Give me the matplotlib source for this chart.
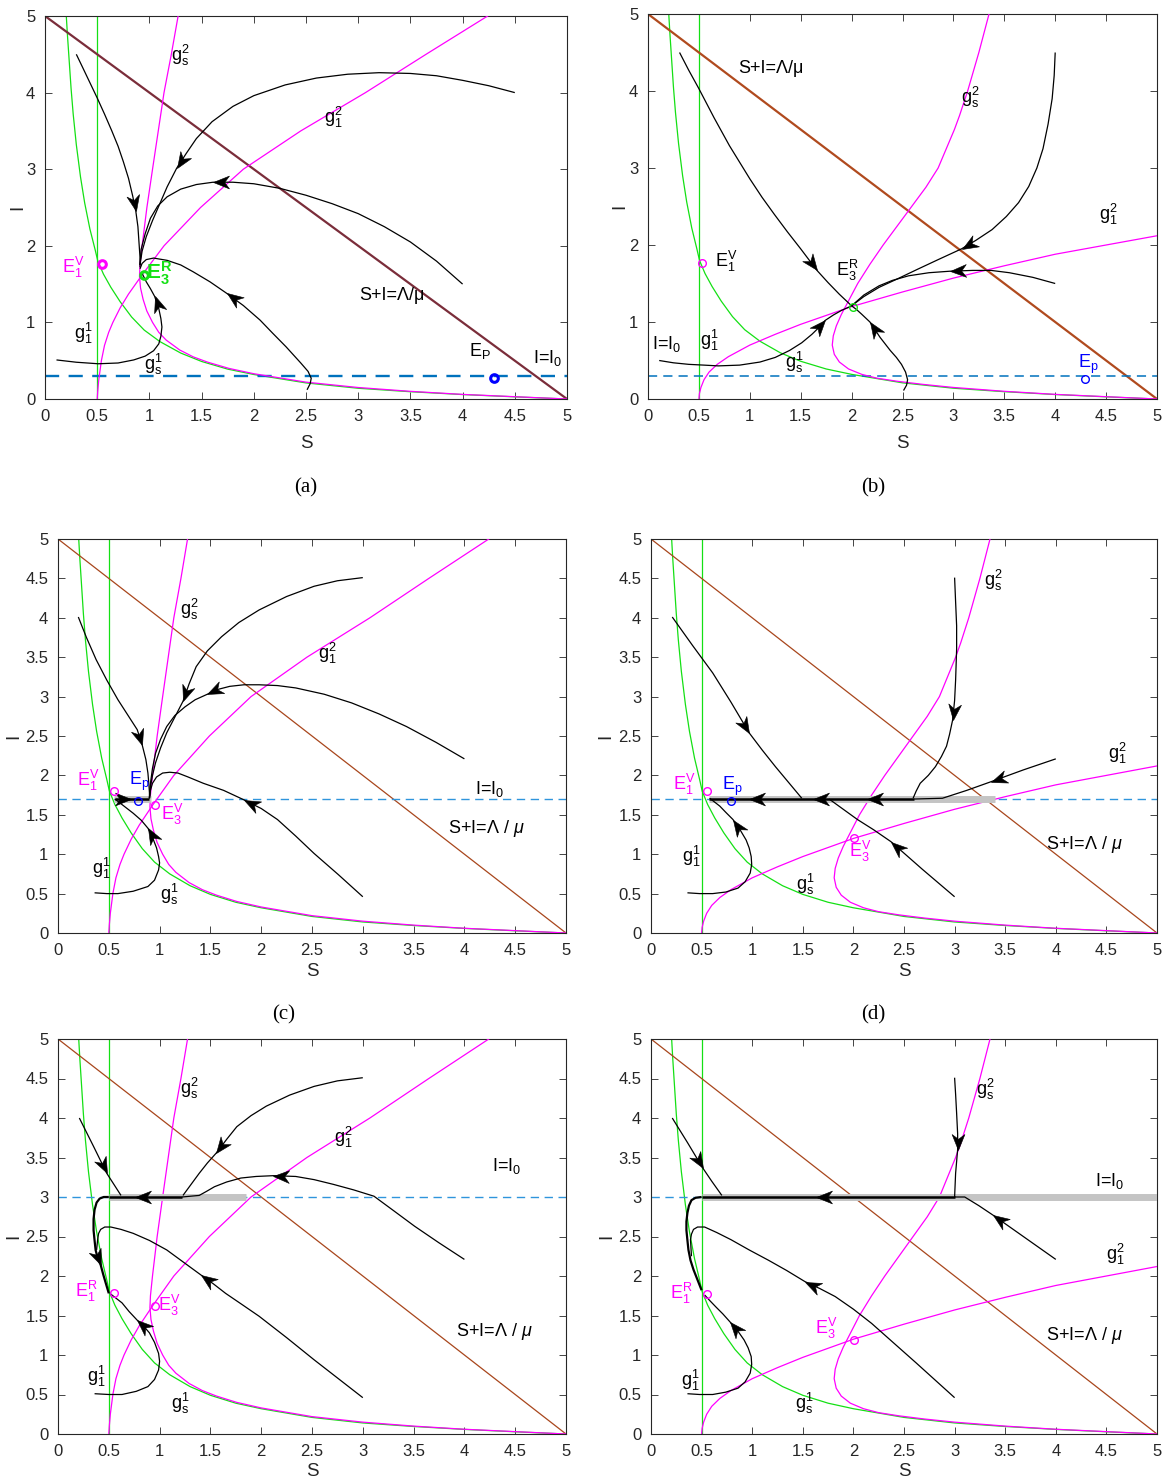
import numpy as np
import matplotlib
matplotlib.use("Agg")
import matplotlib.pyplot as plt
from matplotlib.path import Path
from matplotlib.markers import MarkerStyle
from matplotlib.transforms import Affine2D

plt.rcParams['font.family'] = ['Liberation Sans', 'DejaVu Sans']
plt.rcParams['mathtext.fontset'] = 'custom'
plt.rcParams['mathtext.rm'] = 'Liberation Sans'
plt.rcParams['mathtext.it'] = 'Liberation Sans:italic'
plt.rcParams['mathtext.bf'] = 'Liberation Sans:bold'

# ---- axis ticks ----
S_TICKS = [0, 0.5, 1, 1.5, 2, 2.5, 3, 3.5, 4, 4.5, 5]
S_TICK_LABELS = ['0', '0.5', '1', '1.5', '2', '2.5', '3', '3.5', '4', '4.5', '5']
I_TICKS_COARSE = [0, 1, 2, 3, 4, 5]
I_TICK_LABELS_COARSE = ['0', '1', '2', '3', '4', '5']
I_TICKS_FINE = S_TICKS
I_TICK_LABELS_FINE = S_TICK_LABELS

# ---- nullclines ----
G11_S = [0.204, 0.215, 0.23, 0.25, 0.27, 0.30, 0.34, 0.38, 0.43, 0.48, 0.506, 0.56, 0.63,
         0.72, 0.83, 0.95, 1.10, 1.30, 1.50, 1.75, 2.00, 2.50, 3.00, 3.50, 4.00, 4.50, 5.00]
G11_I = [5.00, 4.75, 4.45, 4.05, 3.72, 3.32, 2.90, 2.56, 2.22, 1.95, 1.80, 1.63, 1.46,
         1.27, 1.07, 0.90, 0.75, 0.60, 0.49, 0.39, 0.32, 0.21, 0.14, 0.095, 0.058, 0.028, 0.0]

# left column (a, c, e)
GS_L_S = [1.275, 1.21, 1.14, 1.085, 1.03, 0.976, 0.93, 0.91, 0.905, 0.915, 0.94, 0.975, 1.03,
          1.09, 1.16, 1.29, 1.42, 1.56, 1.76, 2.0, 2.5, 3.0, 3.5, 4.0, 4.5, 5.0]
GS_L_I = [5.0, 4.5, 4.0, 3.5, 3.0, 2.5, 2.0, 1.75, 1.6, 1.45, 1.3, 1.15, 1.0,
          0.87, 0.77, 0.64, 0.55, 0.48, 0.40, 0.33, 0.22, 0.15, 0.10, 0.06, 0.03, 0.0]
G12_L_S = [0.5, 0.505, 0.515, 0.54, 0.57, 0.61, 0.65, 0.72, 0.80, 0.93, 1.14, 1.49, 1.9,
           2.45, 3.07, 3.65, 4.24]
G12_L_I = [0, 0.1, 0.25, 0.5, 0.7, 0.87, 1.0, 1.19, 1.37, 1.62, 2.0, 2.5, 3.0,
           3.5, 4.0, 4.5, 5.0]

# right column (b, d, f)
GS_R_S = [3.35, 3.25, 3.14, 3.06, 3.01, 2.93, 2.85, 2.73, 2.59, 2.45, 2.31, 2.18, 2.06, 1.96,
          1.90, 1.85, 1.82, 1.81, 1.83, 1.88, 1.97, 2.10, 2.25, 2.45, 2.70, 3.0, 3.5, 4.0, 4.5, 5.0]
GS_R_I = [5.0, 4.5, 4.0, 3.68, 3.5, 3.25, 3.0, 2.75, 2.5, 2.25, 2.0, 1.75, 1.5, 1.25,
          1.1, 0.95, 0.82, 0.70, 0.58, 0.48, 0.39, 0.32, 0.27, 0.23, 0.19, 0.15, 0.10, 0.06, 0.03, 0.0]
G12_R_S = [0.5, 0.505, 0.52, 0.55, 0.6, 0.68, 0.79, 1.0, 1.25, 1.5, 2.0, 2.5, 3.0, 3.5, 4.0, 4.5, 5.0]
G12_R_I = [0, 0.07, 0.15, 0.25, 0.35, 0.45, 0.55, 0.70, 0.84, 0.97, 1.2, 1.39, 1.57, 1.73, 1.88, 2.0, 2.12]

TOTAL_POP = 5.0   # S+I = Lambda/mu
VACC_S = 0.5      # vertical green line
I0_VALUES = [0.3, 0.3, 1.7, 1.7, 3.0, 3.0]

# ---- trajectories (S, I) and arrow indices ----
A_T1 = [(0.30, 4.50), (0.36, 4.33), (0.43, 4.13), (0.50, 3.93), (0.57, 3.72), (0.64, 3.50),
        (0.70, 3.30), (0.75, 3.10), (0.80, 2.88), (0.84, 2.65), (0.87, 2.45), (0.89, 2.25),
        (0.90, 2.05), (0.91, 1.85), (0.91, 1.72)]
A_T2 = [(4.5, 4.0), (4.25, 4.09), (4.0, 4.16), (3.75, 4.22), (3.5, 4.25), (3.2, 4.26), (2.9, 4.24),
        (2.6, 4.19), (2.3, 4.10), (2.0, 3.96), (1.8, 3.82), (1.6, 3.62), (1.45, 3.40), (1.35, 3.20),
        (1.26, 3.01), (1.17, 2.77), (1.10, 2.55), (1.03, 2.33), (0.97, 2.12), (0.93, 1.93), (0.91, 1.75)]
A_T3 = [(4.0, 1.5), (3.75, 1.80), (3.5, 2.05), (3.25, 2.25), (3.0, 2.42), (2.75, 2.55), (2.5, 2.66),
        (2.25, 2.75), (2.0, 2.81), (1.8, 2.83), (1.61, 2.83), (1.45, 2.80), (1.30, 2.74), (1.17, 2.64),
        (1.08, 2.52), (1.01, 2.36), (0.96, 2.16), (0.92, 1.95), (0.91, 1.75)]
A_T4 = [(2.51, 0.12), (2.54, 0.2), (2.55, 0.27), (2.52, 0.36), (2.45, 0.47), (2.31, 0.68),
        (2.18, 0.86), (2.06, 1.03), (1.90, 1.22), (1.74, 1.38), (1.58, 1.53), (1.42, 1.66),
        (1.30, 1.75), (1.17, 1.81), (1.04, 1.84), (0.97, 1.82), (0.93, 1.77), (0.91, 1.70)]
A_T5 = [(0.11, 0.51), (0.3, 0.48), (0.51, 0.46), (0.7, 0.47), (0.85, 0.51), (0.96, 0.56),
        (1.04, 0.63), (1.09, 0.72), (1.11, 0.82), (1.12, 0.94), (1.11, 1.05), (1.09, 1.18),
        (1.05, 1.34), (1.01, 1.44), (0.97, 1.53), (0.93, 1.64)]
A_ARROWS = [10, 14, 10, 9, 12]

B_T1 = [(0.31, 4.50), (0.4, 4.27), (0.5, 4.03), (0.65, 3.65), (0.8, 3.29), (1.0, 2.86), (1.12, 2.62),
        (1.24, 2.40), (1.37, 2.17), (1.5, 1.95), (1.66, 1.67), (1.77, 1.51), (1.88, 1.36), (2.0, 1.21)]
B_T2 = [(4.0, 4.5), (3.99, 4.2), (3.97, 3.90), (3.93, 3.57), (3.88, 3.25), (3.82, 3.0), (3.74, 2.76),
        (3.64, 2.55), (3.52, 2.37), (3.38, 2.20), (3.22, 2.06), (3.08, 1.95), (2.85, 1.81),
        (2.64, 1.68), (2.45, 1.56), (2.27, 1.45), (2.12, 1.33), (2.0, 1.21)]
B_T3 = [(4.0, 1.5), (3.78, 1.58), (3.55, 1.64), (3.37, 1.67), (3.19, 1.67), (2.97, 1.66),
        (2.76, 1.64), (2.56, 1.60), (2.40, 1.54), (2.27, 1.47), (2.12, 1.35), (2.0, 1.21)]
B_T4 = [(2.51, 0.11), (2.54, 0.18), (2.55, 0.25), (2.53, 0.35), (2.49, 0.45), (2.44, 0.54),
        (2.38, 0.63), (2.28, 0.80), (2.18, 1.0), (2.10, 1.10), (2.05, 1.16), (2.0, 1.21)]
B_T5 = [(0.11, 0.50), (0.25, 0.47), (0.4, 0.45), (0.55, 0.44), (0.69, 0.43), (0.9, 0.44),
        (1.10, 0.48), (1.25, 0.54), (1.39, 0.63), (1.51, 0.73), (1.61, 0.84), (1.68, 0.93),
        (1.74, 1.02), (1.82, 1.09), (1.90, 1.15), (2.0, 1.21)]
B_ARROWS = [10, 11, 5, 8, 12]

C_T1 = [(0.20, 4.01), (0.28, 3.75), (0.375, 3.47), (0.48, 3.21), (0.59, 2.96), (0.69, 2.76),
        (0.78, 2.58), (0.83, 2.38), (0.865, 2.20), (0.885, 2.03), (0.895, 1.88), (0.90, 1.78), (0.90, 1.71)]
C_T2 = [(3.0, 4.51), (2.75, 4.47), (2.52, 4.40), (2.25, 4.27), (1.98, 4.10), (1.78, 3.94),
        (1.61, 3.76), (1.47, 3.58), (1.36, 3.38), (1.29, 3.16), (1.23, 2.94), (1.15, 2.74),
        (1.07, 2.54), (1.01, 2.35), (0.96, 2.16), (0.93, 2.0), (0.91, 1.86), (0.90, 1.71)]
C_T3 = [(4.0, 2.21), (3.72, 2.42), (3.43, 2.62), (3.16, 2.78), (2.89, 2.92), (2.62, 3.03),
        (2.34, 3.11), (2.16, 3.14), (1.98, 3.15), (1.83, 3.15), (1.69, 3.13), (1.57, 3.09),
        (1.47, 3.03), (1.35, 2.96), (1.25, 2.87), (1.15, 2.76), (1.07, 2.62), (1.01, 2.46),
        (0.96, 2.28), (0.93, 2.09), (0.91, 1.90), (0.90, 1.71)]
C_T4 = [(3.0, 0.46), (2.76, 0.74), (2.52, 1.01), (2.34, 1.23), (2.16, 1.44), (2.0, 1.58),
        (1.83, 1.69), (1.63, 1.81), (1.43, 1.90), (1.28, 1.98), (1.18, 2.03), (1.10, 2.04),
        (1.03, 2.03), (0.97, 1.98), (0.93, 1.90), (0.91, 1.81), (0.90, 1.71)]
C_T5 = [(0.36, 0.51), (0.48, 0.50), (0.59, 0.50), (0.74, 0.53), (0.885, 0.59), (0.95, 0.67),
        (0.99, 0.80), (1.0, 0.89), (0.99, 0.97), (0.97, 1.08), (0.94, 1.18), (0.915, 1.26),
        (0.885, 1.33), (0.82, 1.43), (0.74, 1.52), (0.66, 1.60), (0.59, 1.67), (0.56, 1.70)]
C_ARROWS = [7, 10, 12, 6, 12]
C_SLIDE = [(0.56, 1.70), (0.72, 1.70), (0.90, 1.70)]
C_SLIDE_ARROWS = [1]
C_BAND = [0.55, 0.92]

D_T1 = [(0.21, 4.01), (0.41, 3.65), (0.61, 3.30), (0.79, 2.93), (0.97, 2.54), (1.10, 2.32),
        (1.23, 2.11), (1.36, 1.91), (1.49, 1.71)]
D_T2 = [(3.0, 4.51), (3.01, 4.2), (3.02, 3.9), (3.02, 3.6), (3.01, 3.21), (3.0, 2.95), (2.98, 2.70),
        (2.95, 2.52), (2.92, 2.37), (2.87, 2.24), (2.81, 2.11), (2.74, 2.0), (2.66, 1.90),
        (2.62, 1.80), (2.59, 1.71)]
D_T3 = [(4.0, 2.21), (3.68, 2.07), (3.36, 1.92), (3.12, 1.81), (2.88, 1.71), (2.60, 1.70)]
D_T4 = [(3.0, 0.46), (2.68, 0.81), (2.37, 1.16), (2.20, 1.31), (2.04, 1.44), (1.90, 1.57), (1.76, 1.70)]
D_T5 = [(0.36, 0.51), (0.48, 0.50), (0.61, 0.50), (0.74, 0.52), (0.86, 0.57), (0.93, 0.65),
        (0.98, 0.76), (0.995, 0.87), (0.99, 0.97), (0.97, 1.08), (0.94, 1.18), (0.88, 1.31),
        (0.81, 1.44), (0.74, 1.53), (0.68, 1.61), (0.62, 1.67), (0.58, 1.71)]
D_ARROWS = [4, 6, 2, 2, 12]
D_SLIDE = [(2.60, 1.70), (2.13, 1.70), (1.60, 1.70), (0.97, 1.70), (0.57, 1.70)]
D_SLIDE_ARROWS = [1, 2, 3]
D_BAND = [0.57, 3.4]

E_T1 = [(0.21, 4.0), (0.35, 3.64), (0.48, 3.30), (0.55, 3.16), (0.62, 3.02)]
E_T2 = [(3.0, 4.51), (2.75, 4.47), (2.52, 4.40), (2.28, 4.29), (2.05, 4.15), (1.90, 4.03),
        (1.76, 3.89), (1.66, 3.73), (1.56, 3.56), (1.47, 3.43), (1.39, 3.30), (1.31, 3.16), (1.23, 3.02)]
E_T3 = [(4.0, 2.21), (3.75, 2.42), (3.51, 2.63), (3.30, 2.83), (3.11, 3.01), (2.91, 3.09),
        (2.71, 3.16), (2.52, 3.22), (2.34, 3.26), (2.12, 3.27), (1.95, 3.26), (1.80, 3.24),
        (1.66, 3.19), (1.54, 3.13), (1.46, 3.07), (1.39, 3.02), (1.22, 3.0)]
E_T4 = [(3.0, 0.46), (2.76, 0.70), (2.52, 0.94), (2.25, 1.22), (1.98, 1.49), (1.81, 1.64),
        (1.65, 1.78), (1.53, 1.90), (1.41, 2.01), (1.24, 2.17), (1.07, 2.33), (0.90, 2.45),
        (0.74, 2.54), (0.62, 2.59), (0.52, 2.62), (0.46, 2.62), (0.42, 2.59), (0.40, 2.54),
        (0.39, 2.46), (0.38, 2.33)]
E_T5 = [(0.36, 0.51), (0.5, 0.50), (0.63, 0.50), (0.77, 0.54), (0.885, 0.60), (0.95, 0.69),
        (0.99, 0.81), (1.0, 0.92), (0.99, 1.02), (0.95, 1.16), (0.90, 1.28), (0.84, 1.37),
        (0.78, 1.44), (0.70, 1.55), (0.63, 1.66), (0.56, 1.73), (0.51, 1.78)]
E_ARROWS = [2, 8, 9, 8, 12]
E_SLIDE = [(1.22, 3.0), (0.76, 3.0), (0.50, 3.0)]
E_SLIDE_ARROWS = [1]
E_EXIT = [(0.50, 3.0), (0.45, 3.0), (0.41, 2.98), (0.38, 2.93), (0.36, 2.84), (0.35, 2.72),
          (0.35, 2.58), (0.36, 2.45), (0.37, 2.33), (0.39, 2.23), (0.42, 2.14), (0.445, 2.02),
          (0.47, 1.91), (0.50, 1.78)]
E_EXIT_ARROWS = [10]
E_BAND = [0.5, 1.85]

F_T1 = [(0.21, 4.0), (0.36, 3.69), (0.51, 3.37), (0.60, 3.20), (0.70, 3.02)]
F_T2 = [(3.0, 4.51), (3.01, 4.3), (3.02, 4.06), (3.03, 3.80), (3.03, 3.60), (3.02, 3.45),
        (3.01, 3.30), (3.0, 3.0)]
F_T3 = [(4.0, 2.21), (3.69, 2.49), (3.38, 2.77), (3.24, 2.89), (3.10, 3.0), (3.0, 3.0)]
F_T4 = [(3.0, 0.46), (2.81, 0.68), (2.62, 0.90), (2.40, 1.15), (2.18, 1.40), (2.0, 1.58),
        (1.82, 1.74), (1.67, 1.84), (1.52, 1.93), (1.34, 2.07), (1.16, 2.20), (0.97, 2.33),
        (0.79, 2.46), (0.65, 2.55), (0.53, 2.62), (0.46, 2.62), (0.42, 2.59), (0.40, 2.53),
        (0.39, 2.46), (0.40, 2.25)]
F_T5 = [(0.36, 0.51), (0.48, 0.50), (0.61, 0.50), (0.74, 0.53), (0.86, 0.58), (0.93, 0.66),
        (0.98, 0.77), (0.995, 0.88), (0.99, 0.98), (0.96, 1.09), (0.92, 1.19), (0.86, 1.30),
        (0.78, 1.42), (0.71, 1.52), (0.64, 1.61), (0.58, 1.69), (0.53, 1.76)]
F_ARROWS = [2, 4, 2, 8, 12]
F_SLIDE = [(3.0, 3.0), (1.63, 3.0), (0.5, 3.0)]
F_SLIDE_ARROWS = [1]
F_EXIT = [(0.5, 3.0), (0.44, 2.99), (0.40, 2.96), (0.375, 2.89), (0.36, 2.80), (0.35, 2.69),
          (0.35, 2.58), (0.36, 2.45), (0.37, 2.33), (0.39, 2.20), (0.42, 2.08), (0.46, 1.95), (0.50, 1.82)]
F_BAND = [0.5, 5.0]

# ---- equilibria ----
A_E1V = (0.545, 1.76); A_E3R = (0.95, 1.62); A_EP = (4.3, 0.27)
B_E1V = (0.535, 1.77); B_E3R = (2.01, 1.19); B_EP = (4.29, 0.26)
C_E1V = (0.55, 1.80); C_EP = (0.79, 1.68); C_E3V = (0.95, 1.63)
D_E1V = (0.55, 1.80); D_EP = (0.79, 1.68); D_E3V = (2.01, 1.20)
E_E1R = (0.55, 1.78); E_E3V = (0.95, 1.62)
F_E1R = (0.55, 1.77); F_E3V = (2.01, 1.19)

GREEN = '#14e014'
MAGENTA = '#ff00ff'
BLUE = '#0000ff'

HEAD = Path([(0, 0), (-1, 0.40), (-0.70, 0), (-1, -0.40), (0, 0)],
            [Path.MOVETO, Path.LINETO, Path.LINETO, Path.LINETO, Path.CLOSEPOLY])


def arrow_head(ax, p0, p1, size=23):
  d = ax.transData.transform([p0, p1])
  ang = np.degrees(np.arctan2(d[1, 1] - d[0, 1], d[1, 0] - d[0, 0]))
  m = MarkerStyle(HEAD, transform=Affine2D().rotate_deg(ang))
  ax.plot(p1[0], p1[1], marker=m, ms=size, color='k', mec='k', mew=0.4, zorder=7)


def trajectory(ax, pts, arrows=(), lw=0.9):
  s = [p[0] for p in pts]
  i = [p[1] for p in pts]
  ax.plot(s, i, color='k', lw=lw, zorder=5, solid_capstyle='butt', solid_joinstyle='round')
  for k in arrows:
    arrow_head(ax, pts[k - 1], pts[k])


def setup(ax, fine, xlab_y, ylab_x):
  ax.set_xlim(0, 5)
  ax.set_ylim(0, 5)
  ax.set_xticks(S_TICKS)
  ax.set_xticklabels(S_TICK_LABELS)
  if fine:
    ax.set_yticks(I_TICKS_FINE)
    ax.set_yticklabels(I_TICK_LABELS_FINE)
  else:
    ax.set_yticks(I_TICKS_COARSE)
    ax.set_yticklabels(I_TICK_LABELS_COARSE)
  ax.tick_params(direction='in', top=True, right=True, length=5, width=0.6,
                 labelsize=12, colors='#262626', pad=7)
  for sp in ax.spines.values():
    sp.set_linewidth(0.8)
    sp.set_color('#262626')
  ax.set_xlabel('S', fontsize=13.5, color='#262626', va='center')
  ax.set_ylabel('I', fontsize=13.5, color='#262626', va='center')
  ax.xaxis.set_label_coords(0.5, xlab_y)
  ax.yaxis.set_label_coords(ylab_x, 0.5)


def nullclines(ax, left, i0, brown, brown_lw, dash_color, dash_lw):
  ax.axvline(VACC_S, color=GREEN, lw=0.9, zorder=2)
  ax.plot(G11_S, G11_I, color=GREEN, lw=0.9, zorder=2)
  if left:
    ax.plot(GS_L_S, GS_L_I, color=MAGENTA, lw=0.9, zorder=3)
    ax.plot(G12_L_S, G12_L_I, color=MAGENTA, lw=0.9, zorder=3)
  else:
    ax.plot(GS_R_S, GS_R_I, color=MAGENTA, lw=0.9, zorder=3)
    ax.plot(G12_R_S, G12_R_I, color=MAGENTA, lw=0.9, zorder=3)
  ax.plot([0, TOTAL_POP], [TOTAL_POP, 0], color=brown, lw=brown_lw, zorder=2)
  ax.plot([0, 5], [i0, i0], color=dash_color, lw=dash_lw, dashes=(6, 4), zorder=2)


def band(ax, rng, i0):
  ax.plot(rng, [i0, i0], color='#c4c4c4', lw=5, solid_capstyle='butt', zorder=4)


def eq(ax, p, color, mew=1.0, ms=5.5):
  ax.plot(p[0], p[1], 'o', ms=ms, mfc='none', mec=color, mew=mew, zorder=8)


def label(ax, x, y, s, color='k', size=13, **kw):
  ax.text(x, y, s, color=color, fontsize=size, ha='center', va='center', zorder=9, **kw)


W, H = 1165, 1479
fig = plt.figure(figsize=(W / 100, H / 100), dpi=100)


def make_axes(l, t, r, b):
  return fig.add_axes([l / W, 1 - b / H, (r - l) / W, (b - t) / H])


ax_a = make_axes(45, 16, 567, 399)
ax_b = make_axes(648, 14, 1157, 399)
ax_c = make_axes(58, 539, 566, 933)
ax_d = make_axes(651, 539, 1157, 933)
ax_e = make_axes(58, 1039, 566, 1434)
ax_f = make_axes(651, 1039, 1157, 1434)

SPLUSI_AB = 'S+I=Λ/μ'
SPLUSI_CF = r'S+I=$\Lambda$ / $\mu$'
I_EQ_I0 = r'I=I$\mathregular{_0}$'

# ---------- (a) ----------
ax = ax_a
setup(ax, False, -0.115, -0.052)
nullclines(ax, True, I0_VALUES[0], '#7a2d3a', 1.6, '#0072BD', 1.7)
for t, k in zip([A_T1, A_T2, A_T3, A_T4, A_T5], A_ARROWS):
  trajectory(ax, t, [k])
eq(ax, A_E1V, MAGENTA, mew=2.2)
eq(ax, A_E3R, GREEN, mew=2.2)
eq(ax, A_EP, BLUE, mew=2.2)
label(ax, 1.30, 4.48, r'$\mathregular{g_s^2}$')
label(ax, 2.76, 3.67, r'$\mathregular{g_1^2}$')
label(ax, 0.27, 1.72, r'$\mathregular{E_1^V}$', MAGENTA)
label(ax, 1.09, 1.64, r'$\mathbf{E_3^R}$', GREEN, size=15)
label(ax, 0.37, 0.85, r'$\mathregular{g_1^1}$')
label(ax, 1.04, 0.45, r'$\mathregular{g_s^1}$')
label(ax, 3.32, 1.35, SPLUSI_AB)
label(ax, 4.17, 0.63, r'E$\mathregular{_P}$')
label(ax, 4.81, 0.54, I_EQ_I0)

# ---------- (b) ----------
ax = ax_b
setup(ax, False, -0.115, -0.055)
nullclines(ax, False, I0_VALUES[1], '#b04a1e', 1.6, '#0072BD', 1.1)
for t, k in zip([B_T1, B_T2, B_T3, B_T4, B_T5], B_ARROWS):
  trajectory(ax, t, [k])
eq(ax, B_E1V, MAGENTA)
eq(ax, B_E3R, GREEN)
eq(ax, B_EP, BLUE)
label(ax, 1.21, 4.29, SPLUSI_AB)
label(ax, 3.17, 3.92, r'$\mathregular{g_s^2}$')
label(ax, 4.52, 2.40, r'$\mathregular{g_1^2}$')
label(ax, 0.77, 1.78, r'$\mathregular{E_1^V}$')
label(ax, 1.96, 1.67, r'$\mathregular{E_3^R}$')
label(ax, 0.18, 0.71, I_EQ_I0)
label(ax, 0.60, 0.76, r'$\mathregular{g_1^1}$')
label(ax, 1.44, 0.48, r'$\mathregular{g_s^1}$')
label(ax, 4.33, 0.45, r'E$\mathregular{_p}$', BLUE)

# ---------- (c) ----------
ax = ax_c
setup(ax, True, -0.097, -0.087)
nullclines(ax, True, I0_VALUES[2], '#a8461c', 0.9, '#2f95dc', 1.0)
band(ax, C_BAND, I0_VALUES[2])
for t, k in zip([C_T1, C_T2, C_T3, C_T4, C_T5], C_ARROWS):
  trajectory(ax, t, [k])
trajectory(ax, C_SLIDE, C_SLIDE_ARROWS, lw=1.8)
eq(ax, C_E1V, MAGENTA)
eq(ax, C_EP, BLUE)
eq(ax, C_E3V, MAGENTA)
label(ax, 1.29, 4.10, r'$\mathregular{g_s^2}$')
label(ax, 2.65, 3.55, r'$\mathregular{g_1^2}$')
label(ax, 4.25, 1.83, I_EQ_I0)
label(ax, 4.22, 1.33, SPLUSI_CF)
label(ax, 0.43, 0.82, r'$\mathregular{g_1^1}$')
label(ax, 1.10, 0.49, r'$\mathregular{g_s^1}$')
label(ax, 0.30, 1.94, r'$\mathregular{E_1^V}$', MAGENTA)
label(ax, 0.80, 1.92, r'$\mathregular{E_p}$', BLUE)
label(ax, 1.12, 1.50, r'$\mathregular{E_3^V}$', MAGENTA)

# ---------- (d) ----------
ax = ax_d
setup(ax, True, -0.097, -0.089)
nullclines(ax, False, I0_VALUES[3], '#a8461c', 0.9, '#2f95dc', 1.0)
band(ax, D_BAND, I0_VALUES[3])
for t, k in zip([D_T1, D_T2, D_T3, D_T4, D_T5], D_ARROWS):
  trajectory(ax, t, [k])
trajectory(ax, D_SLIDE, D_SLIDE_ARROWS, lw=1.8)
eq(ax, D_E1V, MAGENTA)
eq(ax, D_EP, BLUE)
eq(ax, D_E3V, MAGENTA)
label(ax, 3.38, 4.48, r'$\mathregular{g_s^2}$')
label(ax, 4.61, 2.28, r'$\mathregular{g_1^2}$')
label(ax, 4.28, 1.12, SPLUSI_CF)
label(ax, 0.40, 0.97, r'$\mathregular{g_1^1}$')
label(ax, 1.52, 0.61, r'$\mathregular{g_s^1}$')
label(ax, 0.33, 1.88, r'$\mathregular{E_1^V}$', MAGENTA)
label(ax, 0.80, 1.86, r'$\mathregular{E_p}$', BLUE)
label(ax, 2.07, 1.04, r'$\mathregular{E_3^V}$', MAGENTA)

# ---------- (e) ----------
ax = ax_e
setup(ax, True, -0.094, -0.087)
nullclines(ax, True, I0_VALUES[4], '#a8461c', 0.9, '#2f95dc', 1.0)
band(ax, E_BAND, I0_VALUES[4])
for t, k in zip([E_T1, E_T2, E_T3, E_T4, E_T5], E_ARROWS):
  trajectory(ax, t, [k])
trajectory(ax, E_SLIDE, E_SLIDE_ARROWS, lw=1.8)
trajectory(ax, E_EXIT, E_EXIT_ARROWS, lw=1.6)
eq(ax, E_E1R, MAGENTA)
eq(ax, E_E3V, MAGENTA)
label(ax, 1.29, 4.38, r'$\mathregular{g_s^2}$')
label(ax, 2.81, 3.75, r'$\mathregular{g_1^2}$')
label(ax, 4.42, 3.39, I_EQ_I0)
label(ax, 4.29, 1.30, SPLUSI_CF)
label(ax, 0.38, 0.73, r'$\mathregular{g_1^1}$')
label(ax, 1.20, 0.39, r'$\mathregular{g_s^1}$')
label(ax, 0.28, 1.80, r'$\mathregular{E_1^R}$', MAGENTA)
label(ax, 1.10, 1.63, r'$\mathregular{E_3^V}$', MAGENTA)

# ---------- (f) ----------
ax = ax_f
setup(ax, True, -0.094, -0.087)
nullclines(ax, False, I0_VALUES[5], '#a8461c', 0.9, '#2f95dc', 1.0)
band(ax, F_BAND, I0_VALUES[5])
for t, k in zip([F_T1, F_T2, F_T3, F_T4, F_T5], F_ARROWS):
  trajectory(ax, t, [k])
trajectory(ax, F_SLIDE, F_SLIDE_ARROWS, lw=1.8)
trajectory(ax, F_EXIT, [], lw=1.6)
eq(ax, F_E1R, MAGENTA)
eq(ax, F_E3V, MAGENTA)
label(ax, 3.30, 4.36, r'$\mathregular{g_s^2}$')
label(ax, 4.59, 2.27, r'$\mathregular{g_1^2}$')
label(ax, 4.53, 3.20, I_EQ_I0)
label(ax, 4.28, 1.25, SPLUSI_CF)
label(ax, 0.39, 0.68, r'$\mathregular{g_1^1}$')
label(ax, 1.51, 0.39, r'$\mathregular{g_s^1}$')
label(ax, 0.30, 1.78, r'$\mathregular{E_1^R}$', MAGENTA)
label(ax, 1.73, 1.34, r'$\mathregular{E_3^V}$', MAGENTA)

# captions
for x, y, s in [(306, 488, '(a)'), (873, 488, '(b)'), (284, 1015, '(c)'), (873, 1015, '(d)')]:
  fig.text(x / W, 1 - y / H, s, ha='center', va='center', fontsize=15,
           family=['Liberation Serif', 'DejaVu Serif'])

fig.savefig('out.png', dpi=100)
